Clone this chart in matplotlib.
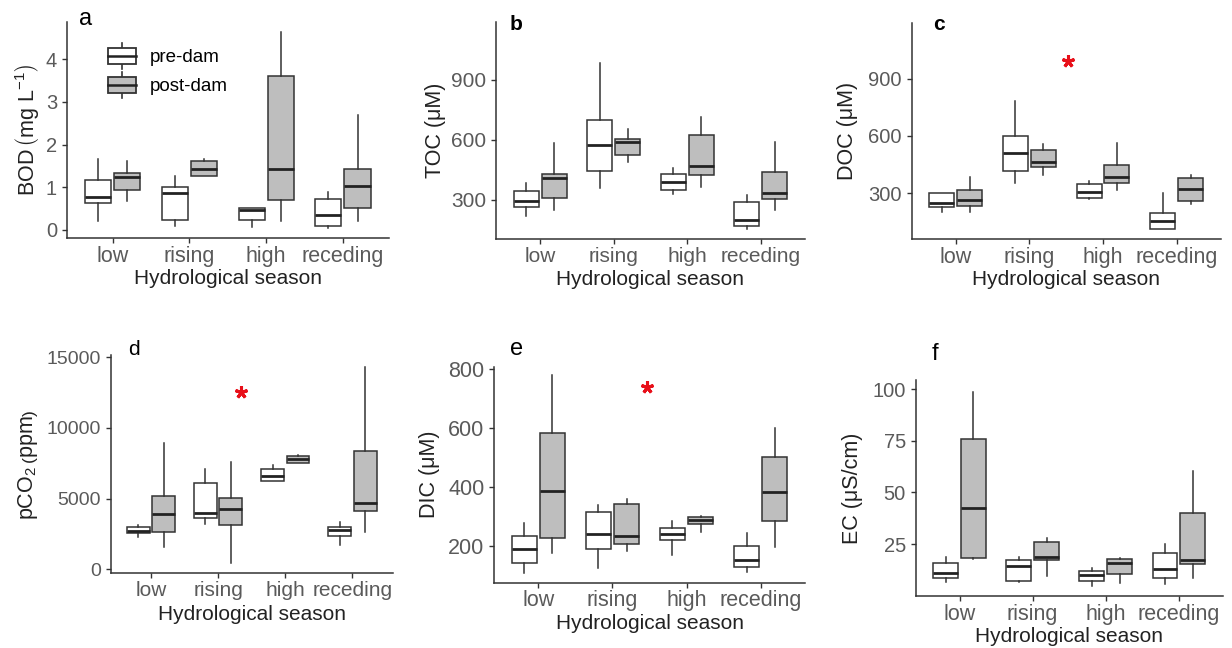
import matplotlib
matplotlib.use("Agg")
import matplotlib.pyplot as plt
from matplotlib.patches import Rectangle, Patch
from matplotlib.lines import Line2D
from matplotlib.legend_handler import HandlerBase

plt.rcParams['font.family'] = ['Liberation Sans', 'DejaVu Sans']
plt.rcParams['mathtext.fontset'] = 'custom'
plt.rcParams['mathtext.rm'] = 'Liberation Sans'
plt.rcParams['mathtext.it'] = 'Liberation Sans:italic'
plt.rcParams['mathtext.bf'] = 'Liberation Sans:bold'

# ---------------- data (whislo, q1, median, q3, whishi) ----------------
SEASONS = ['low', 'rising', 'high', 'receding']
GROUPS = ['pre-dam', 'post-dam']

BOD_PRE = [(0.20, 0.625, 0.78, 1.17, 1.66), (0.09, 0.23, 0.86, 1.00, 1.27),
           (0.06, 0.23, 0.47, 0.51, 0.51), (0.04, 0.09, 0.34, 0.72, 0.88)]
BOD_POST = [(0.68, 0.94, 1.23, 1.33, 1.62), (1.27, 1.27, 1.42, 1.61, 1.67),
            (0.22, 0.70, 1.42, 3.61, 4.65), (0.20, 0.51, 1.02, 1.44, 2.70)]
TOC_PRE = [(220, 262, 295, 342, 383), (358, 442, 572, 700, 983),
           (330, 347, 387, 430, 458), (153, 170, 200, 287, 325)]
TOC_POST = [(247, 308, 408, 430, 583), (487, 523, 587, 603, 655),
            (362, 425, 467, 625, 713), (247, 303, 333, 437, 587)]
DOC_PRE = [(204, 230, 251, 303, 303), (352, 419, 509, 600, 783),
           (269, 274, 309, 347, 366), (112, 115, 155, 199, 300)]
DOC_POST = [(202, 235, 265, 317, 387), (396, 440, 462, 527, 558),
            (317, 356, 384, 448, 565), (244, 262, 321, 378, 396)]
PCO2_PRE = [(2311, 2547, 2736, 2972, 3137), (3208, 3608, 4010, 6085, 7075),
            (6274, 6274, 6627, 7075, 7382), (1722, 2382, 2783, 3019, 3373)]
PCO2_POST = [(1604, 2618, 3892, 5212, 8915), (425, 3137, 4245, 5071, 7618),
             (7500, 7500, 7807, 8019, 8090), (2665, 4151, 4717, 8396, 14292)]
DIC_PRE = [(110, 143, 189, 234, 277), (124, 189, 240, 316, 339),
           (169, 220, 240, 260, 285), (113, 128, 152, 200, 243)]
DIC_POST = [(175, 226, 388, 582, 780), (184, 207, 234, 343, 358),
            (246, 275, 288, 300, 302), (195, 286, 384, 503, 599)]
EC_PRE = [(6.4, 8.35, 10.8, 15.9, 18.9), (6.7, 7.2, 14.3, 17.2, 18.9),
          (4.6, 7.2, 10.0, 12.1, 13.2), (5.4, 8.35, 12.7, 20.8, 25.0)]
EC_POST = [(17.6, 18.4, 42.6, 75.8, 98.9), (9.5, 17.2, 18.5, 26.1, 27.7),
           (5.9, 10.5, 15.9, 17.6, 18.0), (8.7, 15.3, 17.2, 40.2, 60.6)]

YLABELS = [r'BOD$\,\left(\mathrm{mg\ L^{-1}}\right)$', 'TOC (μM)', 'DOC (μM)',
           r'pCO$_2\,\left(\mathrm{ppm}\right)$', 'DIC (μM)', 'EC (μS/cm)']
YTICKS = [[0, 1, 2, 3, 4], [300, 600, 900], [300, 600, 900],
          [0, 5000, 10000, 15000], [200, 400, 600, 800], [25, 50, 75, 100]]
PANEL_LETTERS = ['a', 'b', 'c', 'd', 'e', 'f']
# significance stars: panel index, x position (season units), y value
STAR_PANEL = [2, 3, 4]
STAR_X = [2.52, 2.34, 2.47]
STAR_Y = [992, 12571, 740]

# ---------------- layout / style ----------------
W, H = 1232, 648
PRE_FILL = 'white'
POST_FILL = '#BEBEBE'
EDGE = '#333333'
MED = '#222222'
TICKC = '#5A5A5A'

# axes boxes in pixels: left, right, top, bottom
AX_PX = [(66.7, 389, 21.7, 238.3), (496, 805, 21.7, 239), (911.7, 1220.7, 22.7, 239.3),
         (110.7, 392.7, 355, 573.3), (494, 805, 366.7, 582.7), (915.7, 1222.7, 380, 596)]
YLIMS = [(-0.195, 4.88), (103, 1192), (59, 1193), (-283, 15165), (75.6, 808), (-0.2, 104.5)]
YLAB_X = [-0.123, -0.197, -0.207, -0.294, -0.206, -0.205]
XTICK_FS = [15.5, 15, 15.5, 15, 15.5, 15.5]
YTICK_FS = [14.5, 15, 14.5, 14, 15.5, 14.5]
LETTER_PX = [(79, 25, 17, 'normal'), (510, 30, 15, 'bold'), (933, 30, 15, 'bold'),
             (128, 355, 15, 'normal'), (510, 355, 17, 'normal'), (932, 360, 17, 'normal')]

PANEL_DATA = [(BOD_PRE, BOD_POST), (TOC_PRE, TOC_POST), (DOC_PRE, DOC_POST),
              (PCO2_PRE, PCO2_POST), (DIC_PRE, DIC_POST), (EC_PRE, EC_POST)]

OFFSET = 0.19
BOXW = 0.34


class BoxHandler(HandlerBase):
    def create_artists(self, legend, orig_handle, xdescent, ydescent,
                       width, height, fontsize, trans):
        fc = orig_handle.get_facecolor()
        x0, y0 = -xdescent, -ydescent
        b0 = y0 + 0.19 * height
        b1 = y0 + 0.81 * height
        xm = x0 + width / 2
        w1 = Line2D([xm, xm], [y0, b0], color=EDGE, lw=1.2, transform=trans)
        w2 = Line2D([xm, xm], [b1, y0 + height], color=EDGE, lw=1.2, transform=trans)
        rect = Rectangle((x0, b0), width, b1 - b0, facecolor=fc, edgecolor=EDGE,
                         lw=1.3, transform=trans)
        med = Line2D([x0, x0 + width], [y0 + height / 2] * 2, color=MED, lw=1.8,
                     transform=trans)
        return [w1, w2, rect, med]


def stats_list(summary):
    out = []
    for lo, q1, med, q3, hi in summary:
        out.append(dict(whislo=lo, q1=q1, med=med, q3=q3, whishi=hi, fliers=[]))
    return out


fig = plt.figure(figsize=(W / 100, H / 100), dpi=100)
axes = []
for i, (l, r, t, b) in enumerate(AX_PX):
    ax = fig.add_axes([l / W, 1 - b / H, (r - l) / W, (b - t) / H])
    axes.append(ax)
    pre, post = PANEL_DATA[i]
    pos = list(range(1, len(SEASONS) + 1))
    for summ, off, fill in ((pre, -OFFSET, PRE_FILL), (post, OFFSET, POST_FILL)):
        ax.bxp(stats_list(summ), positions=[p + off for p in pos], widths=BOXW,
               patch_artist=True, showcaps=False, showfliers=False,
               boxprops=dict(facecolor=fill, edgecolor=EDGE, linewidth=1.1),
               whiskerprops=dict(color=EDGE, linewidth=1.1),
               medianprops=dict(color=MED, linewidth=2.0, solid_capstyle='butt'),
               manage_ticks=False)
    ax.set_xlim(0.4, 4.6)
    ax.set_ylim(*YLIMS[i])
    ax.set_xticks(pos)
    ax.set_xticklabels(SEASONS)
    ax.set_yticks(YTICKS[i])
    for s in ('top', 'right'):
        ax.spines[s].set_visible(False)
    for s in ('left', 'bottom'):
        ax.spines[s].set_color(EDGE)
        ax.spines[s].set_linewidth(1.1)
    ax.tick_params(axis='both', direction='out', length=3.6, width=1.0,
                   color=EDGE, labelcolor=TICKC)
    ax.tick_params(axis='x', pad=2, labelsize=XTICK_FS[i])
    ax.tick_params(axis='y', pad=3.4, labelsize=YTICK_FS[i])
    ax.set_ylabel(YLABELS[i], fontsize=15.5, color='#222222', va='center')
    ax.yaxis.set_label_coords(YLAB_X[i], 0.5)
    ax.set_xlabel('Hydrological season', fontsize=15, color='#222222', va='center')
    ax.xaxis.set_label_coords(0.5, -0.187)
    ax.set_facecolor('white')

for pi, sx, sy in zip(STAR_PANEL, STAR_X, STAR_Y):
    axes[pi].plot([sx], [sy], marker=(5, 2, 0), markersize=9, color='#E8101A',
                  markeredgewidth=2.2, linestyle='none')

for (x, y, fs, wt), letter in zip(LETTER_PX, PANEL_LETTERS):
    fig.text(x / W, 1 - y / H, letter, fontsize=fs, fontweight=wt, color='black',
             ha='left', va='baseline')

handles = [Patch(facecolor=PRE_FILL), Patch(facecolor=POST_FILL)]
fs_leg = 13.5
fpx = fs_leg * 100 / 72
axes[0].legend(handles, GROUPS, handler_map={Patch: BoxHandler()},
               loc='upper left', bbox_to_anchor=(107.7 / W, 1 - 43.3 / H),
               bbox_transform=fig.transFigure, frameon=False, fontsize=fs_leg,
               borderpad=0, borderaxespad=0, handlelength=28 / fpx,
               handleheight=32 / fpx, labelspacing=3.5 / fpx,
               handletextpad=14.3 / fpx)

fig.savefig('out.png', dpi=100, facecolor='white')
